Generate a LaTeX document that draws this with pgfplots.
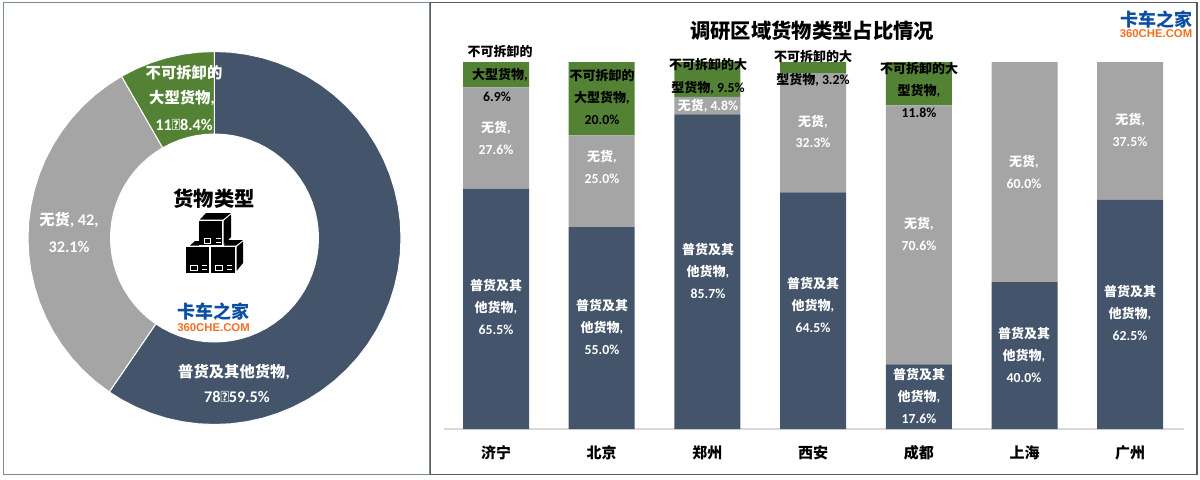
\documentclass[border=0pt]{standalone}
\usepackage{fontspec}
\usepackage{pgfplots}
\usepackage{pgfplotstable}
\pgfplotsset{compat=1.18}
\setmainfont{Noto Sans CJK SC}
\newfontfamily\lat{Carlito}[Scale=1.06]
\newfontfamily\logol{Liberation Sans}
\definecolor{navy}{HTML}{44546A}
\definecolor{gr}{HTML}{A5A5A5}
\definecolor{grn}{HTML}{548235}
\definecolor{logob}{HTML}{0B4EA2}
\definecolor{logoo}{HTML}{F36F21}
\newcommand\N[1]{{\lat\bfseries #1}}
\newcommand\LB[4]{\node[text=#3,inner sep=0pt,text height=6.6pt,text depth=1.6pt,font=\bfseries\fontsize{7.8}{9}\selectfont] at (#1,#2) {#4};}
\newcommand\LD[4]{\node[text=#3,inner sep=0pt,text height=7.9pt,text depth=1.9pt,font=\bfseries\fontsize{9.2}{11}\selectfont] at (#1,#2) {#4};}
\pgfplotstableread{
idx plain none big
0 65.5 27.6 6.9
1 55.0 25.0 20.0
2 85.7 4.8 9.5
3 64.5 32.3 3.2
4 17.6 70.6 11.8
5 40.0 60.0 0
6 62.5 37.5 0
}\regions
\begin{document}
\begin{tikzpicture}
\path (0,0) rectangle (720pt,287.4pt);
% donut: (angle, radius) outlines of the wedges 78, 42, 11
\begin{axis}[at={(0pt,0pt)},anchor=south west,scale only axis,width=258pt,height=287.4pt,
  xmin=-214.5,xmax=215.5,ymin=-241,ymax=238,hide axis,clip=false]
\addplot[fill=navy,draw=white,line width=0.6pt,data cs=polar] coordinates {
(90,186.5)(85,186.5)(80,186.5)(75,186.5)(70,186.5)(65,186.5)(60,186.5)(55,186.5)(50,186.5)(45,186.5)(40,186.5)(35,186.5)(30,186.5)(25,186.5)(20,186.5)(15,186.5)(10,186.5)(5,186.5)(0,186.5)
(-5,186.5)(-10,186.5)(-15,186.5)(-20,186.5)(-25,186.5)(-30,186.5)(-35,186.5)(-40,186.5)(-45,186.5)(-50,186.5)(-55,186.5)(-60,186.5)(-65,186.5)(-70,186.5)(-75,186.5)(-80,186.5)(-85,186.5)(-90,186.5)
(-95,186.5)(-100,186.5)(-105,186.5)(-110,186.5)(-115,186.5)(-120,186.5)(-124.35,186.5)
(-124.35,104)(-120,104)(-115,104)(-110,104)(-105,104)(-100,104)(-95,104)(-90,104)(-85,104)(-80,104)(-75,104)(-70,104)(-65,104)(-60,104)(-55,104)(-50,104)(-45,104)(-40,104)(-35,104)(-30,104)(-25,104)(-20,104)(-15,104)(-10,104)(-5,104)
(0,104)(5,104)(10,104)(15,104)(20,104)(25,104)(30,104)(35,104)(40,104)(45,104)(50,104)(55,104)(60,104)(65,104)(70,104)(75,104)(80,104)(85,104)(90,104)
} -- cycle;
\addplot[fill=gr,draw=white,line width=0.6pt,data cs=polar] coordinates {
(-124.35,186.5)(-130,186.5)(-135,186.5)(-140,186.5)(-145,186.5)(-150,186.5)(-155,186.5)(-160,186.5)(-165,186.5)(-170,186.5)(-175,186.5)(-180,186.5)(-185,186.5)(-190,186.5)(-195,186.5)(-200,186.5)(-205,186.5)(-210,186.5)(-215,186.5)(-220,186.5)(-225,186.5)(-230,186.5)(-235,186.5)(-240.12,186.5)
(-240.12,104)(-235,104)(-230,104)(-225,104)(-220,104)(-215,104)(-210,104)(-205,104)(-200,104)(-195,104)(-190,104)(-185,104)(-180,104)(-175,104)(-170,104)(-165,104)(-160,104)(-155,104)(-150,104)(-145,104)(-140,104)(-135,104)(-130,104)(-124.35,104)
} -- cycle;
\addplot[fill=grn,draw=white,line width=0.6pt,data cs=polar] coordinates {
(-240.12,186.5)(-245,186.5)(-250,186.5)(-255,186.5)(-260,186.5)(-265,186.5)(-270,186.5)
(-270,104)(-265,104)(-260,104)(-255,104)(-250,104)(-245,104)(-240.12,104)
} -- cycle;
\end{axis}
% stacked bars
\begin{axis}[at={(266.4pt,30pt)},anchor=south west,scale only axis,width=444pt,height=220.2pt,
  ybar stacked,bar width=39.6pt,xmin=-0.492,xmax=6.509,ymin=0,ymax=100,clip=false,
  axis x line=bottom,axis y line=none,axis line style={draw=black!15,line width=0.9pt,-},
  xtick={0,1,2,3,4,5,6},xticklabels={济宁,北京,郑州,西安,成都,上海,广州},
  major tick length=0pt,
  xticklabel style={font=\bfseries\fontsize{9}{11}\selectfont,text height=8pt,text depth=2pt,yshift=-6pt}]
\addplot[fill=navy,draw=none] table[x=idx,y=plain] {\regions};
\addplot[fill=gr,draw=none] table[x=idx,y=none] {\regions};
\addplot[fill=grn,draw=none] table[x=idx,y=big] {\regions};
\end{axis}
\begin{scope}[x=0.6pt,y=-0.6pt,shift={(0pt,287.4pt)}]
% frames
\draw[color=navy!70!white,line width=0.7pt] (3.5,2.5) rectangle (429.5,474.5);
\draw[color=black!65,line width=0.7pt] (430.5,2.5) rectangle (1197,474.5);
% title
\node[inner sep=0pt,font=\bfseries\fontsize{12.2}{14}\selectfont] at (812,31) {调研区域货物类型占比情况};
% donut labels
\LD{184}{73}{white}{不可拆卸的}
\LD{182}{98}{white}{大型货物\N{,}}
\LD{184}{125}{white}{\N{11，8.4\%}}
\LD{69}{220}{white}{无货\N{, 42,}}
\LD{69}{247}{white}{\N{32.1\%}}
\LD{234}{372}{white}{普货及其他货物\N{,}}
\LD{237}{397}{white}{\N{78，59.5\%}}
\node[inner sep=0pt,font=\bfseries\fontsize{12.2}{14}\selectfont] at (214,199) {货物类型};
% box icon
\fill[black] (199,221) rectangle (222,245);
\fill[black] (200,219.5)--(206,213)--(231,213)--(223,219.5)--cycle;
\fill[black] (223.5,221)--(231,214.5)--(231,237)--(223.5,244.5)--cycle;
\fill[black] (186,247) rectangle (209,273);
\fill[black] (211,247) rectangle (235,273);
\fill[black] (190,245.5)--(195,241)--(199,241)--(199,245.5)--cycle;
\fill[black] (224,245.5)--(226,240)--(243,240)--(236,245.5)--cycle;
\fill[black] (236.5,247)--(243,241.5)--(243,263)--(236.5,271)--cycle;
\draw[white,line width=0.6pt] (204,238) rectangle (210,243);
\draw[white,line width=0.6pt] (216,238.5)--(221,238.5) (216,242)--(221,242);
\draw[white,line width=0.6pt] (190,265) rectangle (197,270);
\draw[white,line width=0.6pt] (202,265.5)--(207,265.5) (202,269)--(207,269);
\draw[white,line width=0.6pt] (215,265) rectangle (222,270);
\draw[white,line width=0.6pt] (227,265.5)--(232,265.5) (227,269)--(232,269);
% logos
\node[inner sep=0pt,text=logob,font=\bfseries\fontsize{10.8}{12}\selectfont] at (213.5,312) {卡车之家};
\node[inner sep=0pt,text=logoo,font=\logol\bfseries\fontsize{6.8}{8}\selectfont] at (213.5,327.5) {360CHE.COM};
\node[inner sep=0pt,text=logob,font=\bfseries\fontsize{10.8}{12}\selectfont] at (1156,20) {卡车之家};
\node[inner sep=0pt,text=logoo,font=\logol\bfseries\fontsize{6.8}{8}\selectfont] at (1156,34) {360CHE.COM};
% bar labels
\LB{500}{52}{black}{不可拆卸的}
\LB{500}{75}{black}{大型货物\N{,}}
\LB{497}{97}{black}{\N{6.9\%}}
\LB{496}{128}{white}{无货\N{,}}
\LB{496}{150}{white}{\N{27.6\%}}
\LB{496}{286}{white}{普货及其}
\LB{496}{308}{white}{他货物\N{,}}
\LB{496}{330}{white}{\N{65.5\%}}
\LB{602}{76}{black}{不可拆卸的}
\LB{602}{98}{black}{大型货物\N{,}}
\LB{602}{120}{black}{\N{20.0\%}}
\LB{602}{157}{white}{无货\N{,}}
\LB{602}{179}{white}{\N{25.0\%}}
\LB{602}{306}{white}{普货及其}
\LB{602}{328}{white}{他货物\N{,}}
\LB{602}{350}{white}{\N{55.0\%}}
\LB{708}{65}{black}{不可拆卸的大}
\LB{708}{88}{black}{型货物\N{, 9.5\%}}
\LB{708}{106}{white}{无货\N{, 4.8\%}}
\LB{708}{250}{white}{普货及其}
\LB{708}{272}{white}{他货物\N{,}}
\LB{708}{294}{white}{\N{85.7\%}}
\LB{813}{57}{black}{不可拆卸的大}
\LB{813}{80}{black}{型货物\N{, 3.2\%}}
\LB{813}{122}{white}{无货\N{,}}
\LB{813}{143}{white}{\N{32.3\%}}
\LB{813}{284}{white}{普货及其}
\LB{813}{306}{white}{他货物\N{,}}
\LB{813}{328}{white}{\N{64.5\%}}
\LB{919}{69}{black}{不可拆卸的大}
\LB{919}{91}{black}{型货物\N{,}}
\LB{919}{113}{black}{\N{11.8\%}}
\LB{919}{224}{white}{无货\N{,}}
\LB{919}{246}{white}{\N{70.6\%}}
\LB{919}{375}{white}{普货及其}
\LB{919}{397}{white}{他货物\N{,}}
\LB{919}{419}{white}{\N{17.6\%}}
\LB{1024}{162}{white}{无货\N{,}}
\LB{1024}{184}{white}{\N{60.0\%}}
\LB{1024}{334}{white}{普货及其}
\LB{1024}{356}{white}{他货物\N{,}}
\LB{1024}{378}{white}{\N{40.0\%}}
\LB{1130}{120}{white}{无货\N{,}}
\LB{1130}{142}{white}{\N{37.5\%}}
\LB{1130}{292}{white}{普货及其}
\LB{1130}{314}{white}{他货物\N{,}}
\LB{1130}{336}{white}{\N{62.5\%}}
\end{scope}
\end{tikzpicture}
\end{document}
